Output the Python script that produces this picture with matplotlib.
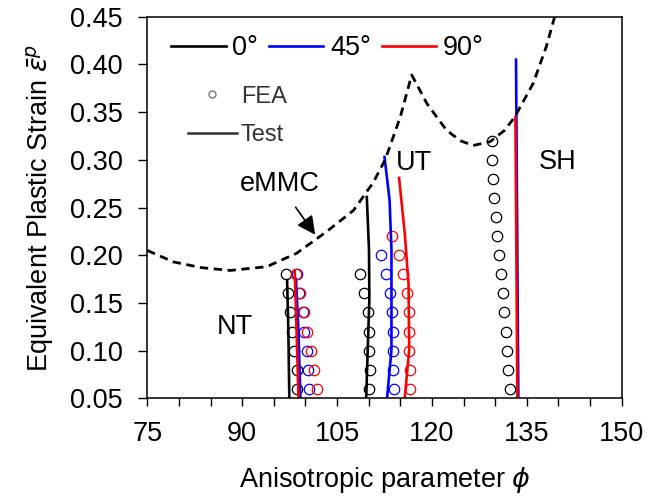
import matplotlib
matplotlib.use('Agg')
import matplotlib.pyplot as plt
from matplotlib.lines import Line2D
from matplotlib.ticker import MultipleLocator

plt.rcParams['font.family'] = ['Liberation Sans', 'DejaVu Sans']
plt.rcParams['mathtext.fontset'] = 'dejavusans'

# eMMC fracture locus (dashed)
emmc_phi = [75.0, 79.1, 83.5, 88.1, 93.9, 98.6, 103.4, 107.6, 110.7, 112.6, 115.0,
            116.8, 119.2, 122.3, 124.5, 126.5, 129.2, 131.5, 133.1, 136.0, 138.1, 139.4]
emmc_eps = [0.205, 0.193, 0.187, 0.184, 0.188, 0.202, 0.225, 0.247, 0.276, 0.300, 0.345,
            0.389, 0.359, 0.331, 0.320, 0.315, 0.319, 0.331, 0.345, 0.380, 0.419, 0.450]

# test curves: (phi, eps) per specimen and orientation
nt_0_phi, nt_0_eps = [97.45, 97.3, 97.1], [0.05, 0.12, 0.174]
nt_45_phi, nt_45_eps = [99.2, 98.9, 98.5], [0.05, 0.12, 0.175]
nt_90_phi, nt_90_eps = [98.9, 98.6, 98.3], [0.05, 0.12, 0.183]

ut_0_phi = [109.6, 110.1, 110.05, 109.7]
ut_0_eps = [0.05, 0.153, 0.205, 0.261]
ut_45_phi = [112.9, 113.6, 113.6, 113.3, 112.5]
ut_45_eps = [0.05, 0.101, 0.205, 0.258, 0.303]
ut_90_phi = [115.7, 116.4, 116.3, 115.7, 114.8]
ut_90_eps = [0.05, 0.101, 0.170, 0.223, 0.281]

sh_45_phi, sh_45_eps = [133.66, 133.29], [0.05, 0.405]
sh_90_phi, sh_90_eps = [133.5, 133.2], [0.05, 0.345]

# FEA points
fea_nt_eps = [0.18, 0.16, 0.14, 0.12, 0.10, 0.08, 0.06]
fea_nt_0 = [96.93, 97.29, 97.56, 97.83, 98.24, 98.62, 98.72]
fea_nt_45 = [98.62, 98.99, 99.57, 99.82, 100.20, 100.46, 100.57]
fea_nt_90 = [98.51, 99.14, 99.77, 100.20, 100.88, 101.40, 101.78]

fea_ut_0_eps = [0.18, 0.16, 0.14, 0.12, 0.10, 0.08, 0.06]
fea_ut_0 = [108.63, 109.31, 109.94, 110.10, 110.10, 110.21, 110.10]
fea_ut_45_eps = [0.20, 0.18, 0.16, 0.14, 0.12, 0.10, 0.08, 0.06]
fea_ut_45 = [111.90, 112.74, 113.37, 113.73, 113.89, 113.89, 113.89, 114.0]
fea_ut_90_eps = [0.22, 0.20, 0.18, 0.16, 0.14, 0.12, 0.10, 0.08, 0.06]
fea_ut_90 = [113.64, 114.80, 115.38, 116.01, 116.38, 116.43, 116.43, 116.53, 116.53]

fea_sh_eps = [0.32, 0.30, 0.28, 0.26, 0.24, 0.22, 0.20, 0.18, 0.16, 0.14, 0.12, 0.10, 0.08, 0.06]
fea_sh_0 = [129.45, 129.55, 129.70, 129.86, 130.13, 130.34, 130.65, 130.92, 131.19,
            131.44, 131.71, 131.92, 132.08, 132.35]

C0, C45, C90 = 'black', '#0000ff', '#ff0000'
FS = 19.5

fig = plt.figure(figsize=(6.47, 5.0), dpi=100)
ax = fig.add_axes([0.2277, 0.2034, 0.7332, 0.7632])

# FEA circles
mk = dict(marker='o', linestyle='none', markerfacecolor='none', markersize=7.5, markeredgewidth=0.9)
ax.plot(fea_nt_0, fea_nt_eps, markeredgecolor=C0, **mk)
ax.plot(fea_nt_45, fea_nt_eps, markeredgecolor=C45, **mk)
ax.plot(fea_nt_90, fea_nt_eps, markeredgecolor=C90, **mk)
ax.plot(fea_ut_0, fea_ut_0_eps, markeredgecolor=C0, **mk)
ax.plot(fea_ut_45, fea_ut_45_eps, markeredgecolor=C45, **mk)
ax.plot(fea_ut_90, fea_ut_90_eps, markeredgecolor=C90, **mk)
ax.plot(fea_sh_0, fea_sh_eps, markeredgecolor=C0, **mk)

# test curves
lw = 1.9
ax.plot(nt_0_phi, nt_0_eps, color=C0, lw=lw)
ax.plot(nt_45_phi, nt_45_eps, color=C45, lw=lw)
ax.plot(nt_90_phi, nt_90_eps, color=C90, lw=lw)
ax.plot(ut_0_phi, ut_0_eps, color=C0, lw=lw)
ax.plot(ut_45_phi, ut_45_eps, color=C45, lw=lw)
ax.plot(ut_90_phi, ut_90_eps, color=C90, lw=lw)
ax.plot(sh_45_phi, sh_45_eps, color=C45, lw=lw)
ax.plot(sh_90_phi, sh_90_eps, color=C90, lw=lw)

# eMMC locus
ax.plot(emmc_phi, emmc_eps, color='black', lw=2.0, linestyle=(0, (3, 2)))

# annotations
ax.text(96.0, 0.275, 'eMMC', fontsize=FS, ha='center', va='center')
ax.annotate('', xy=(101.8, 0.219), xytext=(98.2, 0.2526),
            arrowprops=dict(arrowstyle='-|>', color='black', lw=1.2, mutation_scale=28))
ax.text(88.8, 0.125, 'NT', fontsize=FS, ha='center', va='center')
ax.text(117.2, 0.297, 'UT', fontsize=FS, ha='center', va='center')
ax.text(139.9, 0.298, 'SH', fontsize=FS, ha='center', va='center')

ax.set_xlim(75, 150)
ax.set_ylim(0.05, 0.45)
ax.xaxis.set_major_locator(MultipleLocator(15))
ax.xaxis.set_minor_locator(MultipleLocator(5))
ax.yaxis.set_major_locator(MultipleLocator(0.05))
ax.yaxis.set_major_formatter(matplotlib.ticker.FormatStrFormatter('%.2f'))
ax.tick_params(axis='both', which='both', direction='out', labelsize=FS, width=1.0)
ax.tick_params(axis='x', which='both', length=5.5, pad=10.5)
ax.tick_params(axis='y', which='major', length=6.5, pad=11)
for s in ax.spines.values():
    s.set_linewidth(1.1)

ax.set_xlabel(r'Anisotropic parameter $\phi$', fontsize=FS, labelpad=13)
ax.set_ylabel(r'Equivalent Plastic Strain $\bar{\varepsilon}^p$', fontsize=FS, labelpad=10)

# orientation legend
h1 = [Line2D([], [], color=C0, lw=lw), Line2D([], [], color=C45, lw=lw), Line2D([], [], color=C90, lw=lw)]
leg1 = ax.legend(h1, ['0°', '45°', '90°'], ncol=3, loc='upper left', bbox_to_anchor=(0.008, 1.005),
                 frameon=False, fontsize=FS, handlelength=2.0, handletextpad=0.25,
                 columnspacing=0.4, borderaxespad=0.35)
ax.add_artist(leg1)

# method legend
h2 = [Line2D([], [], marker='o', linestyle='none', markerfacecolor='none', markeredgecolor='#777777',
             markersize=5, markeredgewidth=1.0),
      Line2D([], [], color='#333333', lw=1.8)]
leg2 = ax.legend(h2, ['FEA', 'Test'], loc='upper left', bbox_to_anchor=(0.04, 0.875),
                 frameon=False, fontsize=17, handlelength=2.1, handletextpad=0.15,
                 labelspacing=0.7, labelcolor='#333333')

fig.savefig('out.png', dpi=100)
